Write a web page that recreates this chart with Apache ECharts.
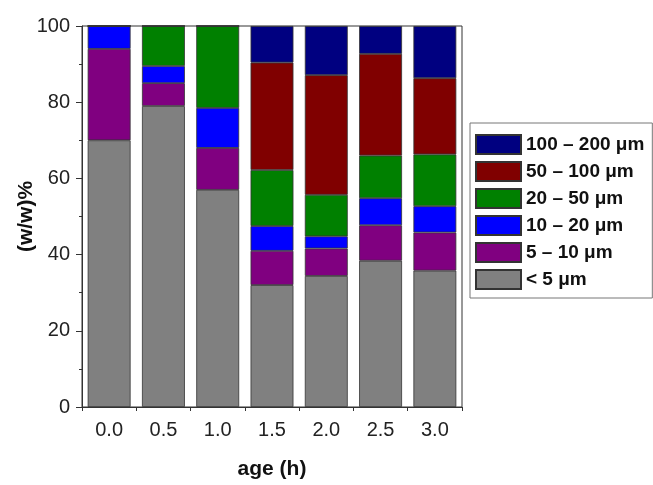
<!DOCTYPE html>
<html>
<head>
<meta charset="utf-8">
<script src="https://cdn.jsdelivr.net/npm/echarts@6/dist/echarts.min.js"></script>
<style>
html,body{margin:0;padding:0;background:#fff;}
#chart{width:653px;height:485px;}
</style>
</head>
<body>
<div id="chart"></div>
<script>
const categories = ['0.0','0.5','1.0','1.5','2.0','2.5','3.0'];
const seriesNames = ['< 5 μm','5 – 10 μm','10 – 20 μm','20 – 50 μm','50 – 100 μm','100 – 200 μm'];
const seriesColors = ['#808080','#800080','#0000FF','#008000','#800000','#000080'];
const lt5      = [70, 79, 57, 32, 34.4, 38.4, 35.8];
const s5to10   = [24, 6, 11, 9, 7.2, 9.3, 10];
const s10to20  = [6, 4.5, 10.5, 6.5, 3.2, 7.1, 6.9];
const s20to50  = [0, 10.5, 21.5, 14.7, 10.9, 11.2, 13.6];
const s50to100 = [0, 0, 0, 28.2, 31.4, 26.7, 20];
const s100to200= [0, 0, 0, 9.6, 12.9, 7.3, 13.7];
const yTicks = [0, 20, 40, 60, 80, 100];

const allValues = [lt5, s5to10, s10to20, s20to50, s50to100, s100to200];
const font = 'Arial, "Liberation Sans", sans-serif';

const chart = echarts.init(document.getElementById('chart'), null, {renderer:'canvas'});
chart.setOption({
  animation: false,
  backgroundColor: '#fff',
  grid: {left: 82, right: 191, top: 26, bottom: 78, containLabel: false, outerBoundsMode: 'none',
    show: true, borderColor: '#333', borderWidth: 1, backgroundColor: 'transparent'},
  legend: {
    orient: 'vertical', left: 470, top: 123,
    data: seriesNames.slice().reverse(),
    itemWidth: 45, itemHeight: 19, itemGap: 6,
    padding: [11, 8, 8, 5],
    borderColor: '#777', borderWidth: 1,
    icon: 'rect',
    textStyle: {fontFamily: font, fontWeight: 'bold', fontSize: 19, color: '#111'}
  },
  xAxis: [{
    type: 'category', data: categories, position: 'bottom',
    name: 'age (h)', nameLocation: 'middle', nameGap: 52,
    nameTextStyle: {fontFamily: font, fontWeight: 'bold', fontSize: 21, color: '#111'},
    axisLine: {lineStyle: {color: '#333', width: 1}},
    axisTick: {alignWithLabel: true, length: 7, lineStyle: {color: '#333'}},
    axisLabel: {fontFamily: font, fontSize: 20, color: '#222', margin: 13}
  },{
    type: 'category', data: categories, position: 'bottom',
    axisLine: {show: true, lineStyle: {color: '#333', width: 1}},
    axisTick: {show: true, alignWithLabel: false, interval: 0, length: 4, lineStyle: {color: '#333'}},
    axisLabel: {show: false}
  }],
  yAxis: {
    type: 'value', min: 0, max: 100, interval: 20,
    name: '(w/w)%', nameLocation: 'middle', nameGap: 45, nameRotate: 90, nameMoveOverlap: false,
    nameTextStyle: {fontFamily: font, fontWeight: 'bold', fontSize: 21, color: '#111'},
    axisLine: {show: true, lineStyle: {color: '#333', width: 1}},
    axisTick: {show: true, length: 6, lineStyle: {color: '#333'}},
    minorTick: {show: true, splitNumber: 2, length: 3, lineStyle: {color: '#333'}},
    splitLine: {show: false},
    axisLabel: {fontFamily: font, fontSize: 20, color: '#222', margin: 12,
      formatter: v => yTicks.includes(v) ? String(v) : ''}
  },
  series: seriesNames.map((n, i) => ({
    name: n, type: 'bar', stack: 'total', xAxisIndex: 0,
    barCategoryGap: '21%',
    data: allValues[i],
    itemStyle: {color: seriesColors[i], borderColor: '#333', borderWidth: 0.8}
  }))
});
</script>
</body>
</html>
